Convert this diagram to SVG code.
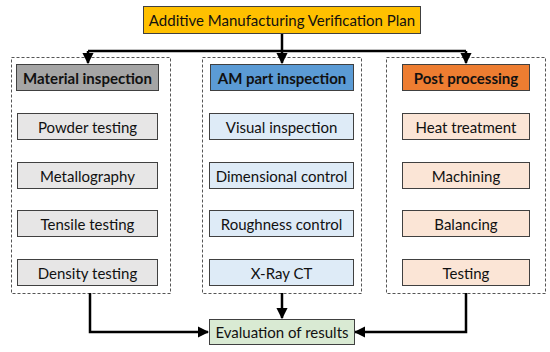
<svg xmlns="http://www.w3.org/2000/svg" width="550" height="352" viewBox="0 0 550 352">
<defs>
<marker id="ah" viewBox="0 0 10 10" refX="9" refY="5" markerWidth="4.5" markerHeight="4.5" orient="auto"><path d="M0,0 L10,5 L0,10 z" fill="#000"/></marker>
<style>
text{font-family:Lato,"Open Sans","Liberation Sans",sans-serif;font-size:15px;fill:#111;text-anchor:middle;dominant-baseline:central}
.hd{font-weight:bold}
.box{stroke:#404040;stroke-width:1}
.dash{fill:none;stroke:#555;stroke-width:1;stroke-dasharray:3,2}
.c{fill:none;stroke:#000;stroke-width:2.5}
.g{fill:#E7E6E6}.gh{fill:#A5A5A5}
.b{fill:#DEEBF7}.bh{fill:#5B9BD5}
.o{fill:#FBE5D6}.oh{fill:#ED7D31}
</style>
</defs>
<rect class="dash" x="11.5" y="57.5" width="159" height="236"/>
<rect class="dash" x="202.5" y="57.5" width="159" height="236"/>
<rect class="dash" x="386.5" y="57.5" width="159" height="236"/>
<g id="connectors">
<path class="c" d="M282,34 V51"/>
<path class="c" d="M88,51 H466"/>
<path class="c" d="M88,51 V63" marker-end="url(#ah)"/>
<path class="c" d="M282,51 V63" marker-end="url(#ah)"/>
<path class="c" d="M466,51 V63" marker-end="url(#ah)"/>
<path class="c" d="M90,293 V332 H208" marker-end="url(#ah)"/>
<path class="c" d="M466,293 V332 H355" marker-end="url(#ah)"/>
<path class="c" d="M282,293 V318" marker-end="url(#ah)"/>
</g>
<g id="title"><rect class="box" x="143.5" y="6.5" width="277" height="27" fill="#FFC000"/><text x="282" y="20">Additive Manufacturing Verification Plan</text></g>
<g id="material"><rect class="box gh" x="16.5" y="64.5" width="142" height="26"/><text class="hd" x="87.5" y="77.5">Material inspection</text></g>
<g id="powder"><rect class="box g" x="17.5" y="113.5" width="140" height="26"/><text x="87.5" y="126.5">Powder testing</text></g>
<g id="metallography"><rect class="box g" x="17.5" y="162.5" width="140" height="26"/><text x="87.5" y="175.5">Metallography</text></g>
<g id="tensile"><rect class="box g" x="17.5" y="210.5" width="140" height="26"/><text x="87.5" y="223.5">Tensile testing</text></g>
<g id="density"><rect class="box g" x="17.5" y="259.5" width="140" height="26"/><text x="87.5" y="272.5">Density testing</text></g>
<g id="am"><rect class="box bh" x="210.5" y="64.5" width="143" height="26"/><text class="hd" x="282" y="77.5">AM part inspection</text></g>
<g id="visual"><rect class="box b" x="209.5" y="113.5" width="144" height="26"/><text x="281.5" y="126.5">Visual inspection</text></g>
<g id="dimensional"><rect class="box b" x="209.5" y="162.5" width="144" height="26"/><text x="281.5" y="175.5">Dimensional control</text></g>
<g id="roughness"><rect class="box b" x="209.5" y="210.5" width="144" height="26"/><text x="281.5" y="223.5">Roughness control</text></g>
<g id="xray"><rect class="box b" x="209.5" y="259.5" width="144" height="26"/><text x="281.5" y="272.5">X-Ray CT</text></g>
<g id="post"><rect class="box oh" x="402.5" y="64.5" width="127" height="26"/><text class="hd" x="466" y="77.5">Post processing</text></g>
<g id="heat"><rect class="box o" x="402.5" y="113.5" width="127" height="26"/><text x="466" y="126.5">Heat treatment</text></g>
<g id="machining"><rect class="box o" x="402.5" y="162.5" width="127" height="26"/><text x="466" y="175.5">Machining</text></g>
<g id="balancing"><rect class="box o" x="402.5" y="210.5" width="127" height="26"/><text x="466" y="223.5">Balancing</text></g>
<g id="testing"><rect class="box o" x="402.5" y="259.5" width="127" height="26"/><text x="466" y="272.5">Testing</text></g>
<g id="evaluation"><rect class="box" x="209.5" y="319.5" width="145" height="25" fill="#D9EAD3"/><text x="282" y="332">Evaluation of results</text></g>
</svg>
